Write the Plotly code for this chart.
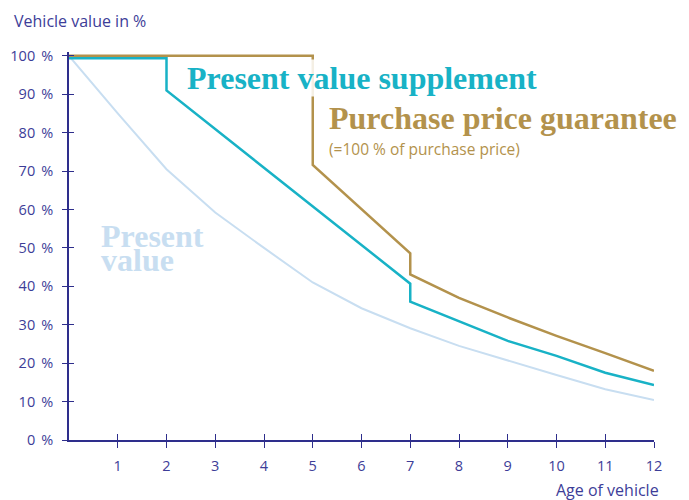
import plotly.graph_objects as go

# ---- data ----
age_ticks = [1, 2, 3, 4, 5, 6, 7, 8, 9, 10, 11, 12]
pct_ticks = [0, 10, 20, 30, 40, 50, 60, 70, 80, 90, 100]
pct_labels = [f"{v}\u2009\u00a0%" for v in pct_ticks]

present_x = [0, 1, 2, 3, 4, 5, 6, 7, 8, 9, 10, 11, 12]
present_y = [100, 85, 70.5, 59.2, 50, 41, 34.3, 29.1, 24.5, 20.6, 16.9, 13.2, 10.4]

supplement_x = [0, 2, 2, 7, 7, 8, 9, 10, 11, 12]
supplement_y = [99.4, 99.4, 91, 40.7, 36, 31, 25.8, 21.9, 17.5, 14.3]

guarantee_x = [0, 5, 5, 7, 7, 8, 9, 10, 11, 12]
guarantee_y = [100, 100, 71.6, 48.6, 43.1, 37, 31.9, 27.1, 22.6, 18]

# ---- style ----
AXIS = "#2e2e8c"
TXT = "#3d3d98"
TEAL = "#18b2c6"
GOLD = "#b3924c"
LIGHT = "#c8def1"
SANS = "'Open Sans', Lato, sans-serif"
SERIF = "'Liberation Serif', serif"

fig = go.Figure()
fig.add_trace(go.Scatter(x=present_x, y=present_y, mode="lines",
                         line=dict(color=LIGHT, width=2), hoverinfo="skip"))
fig.add_trace(go.Scatter(x=supplement_x, y=supplement_y, mode="lines",
                         line=dict(color=TEAL, width=2.5), hoverinfo="skip"))
fig.add_trace(go.Scatter(x=guarantee_x, y=guarantee_y, mode="lines",
                         line=dict(color=GOLD, width=2.5), hoverinfo="skip"))
# empty trace on overlay axes (for inside tick halves)
fig.add_trace(go.Scatter(x=[], y=[], xaxis="x2", yaxis="y2", hoverinfo="skip"))

xr = [0, 12]
yr = [0, 101]

# page body has an 8px margin, so the figure is shrunk by 8px on left/top
fig.update_layout(
    width=681, height=492,
    margin=dict(l=61, r=35, t=44, b=60, autoexpand=False),
    paper_bgcolor="white", plot_bgcolor="white",
    showlegend=False,
    font=dict(family=SANS, color=TXT, size=15),
    xaxis=dict(range=xr, tickmode="array", tickvals=age_ticks, automargin=False,
               ticks="outside", ticklen=6, tickwidth=1.3, tickcolor=AXIS,
               showline=True, linecolor=AXIS, linewidth=1.5,
               showgrid=False, zeroline=False, ticklabelstandoff=6,
               tickfont=dict(family=SANS, size=14.5, color=TXT), fixedrange=True),
    yaxis=dict(range=yr, tickmode="array", tickvals=pct_ticks, ticktext=pct_labels,
               automargin=False,
               ticks="outside", ticklen=5, tickwidth=1.3, tickcolor=AXIS,
               showline=True, linecolor=AXIS, linewidth=1.5,
               showgrid=False, zeroline=False, ticklabelstandoff=6,
               tickfont=dict(family=SANS, size=14.5, color=TXT), fixedrange=True),
    xaxis2=dict(range=xr, overlaying="x", anchor="y2", side="bottom", automargin=False,
                tickmode="array", tickvals=age_ticks, ticks="inside", ticklen=6,
                tickwidth=1.3, tickcolor=AXIS, showticklabels=False,
                showline=False, showgrid=False, zeroline=False, fixedrange=True),
    yaxis2=dict(range=yr, overlaying="y", anchor="x2", side="left", automargin=False,
                tickmode="array", tickvals=pct_ticks, ticks="inside", ticklen=5,
                tickwidth=1.3, tickcolor=AXIS, showticklabels=False,
                showline=False, showgrid=False, zeroline=False, fixedrange=True),
)

ann = [
    dict(text="Vehicle value in %", xref="paper", yref="paper",
         x=-0.0974, y=1.08, xanchor="left", yanchor="middle",
         font=dict(family=SANS, size=16, color=TXT)),
    dict(text="Age of vehicle", xref="paper", yref="paper",
         x=1.012, y=-0.128, xanchor="right", yanchor="middle",
         font=dict(family=SANS, size=16, color=TXT)),
    dict(text="<b>Present value supplement</b>", xref="x", yref="y",
         x=2.405, y=94.2, xanchor="left", yanchor="middle",
         bgcolor="rgba(255,255,255,0.85)", borderpad=0,
         font=dict(family=SERIF, size=32, color=TEAL)),
    dict(text="<b>Purchase price guarantee</b>", xref="x", yref="y",
         x=5.3, y=83.8, xanchor="left", yanchor="middle",
         font=dict(family=SERIF, size=32, color=GOLD)),
    dict(text="(=100 % of purchase price)", xref="x", yref="y",
         x=5.3, y=75.8, xanchor="left", yanchor="middle",
         font=dict(family=SANS, size=15.5, color=GOLD)),
    dict(text="<b>Present</b>", xref="x", yref="y",
         x=0.62, y=53, xanchor="left", yanchor="middle",
         font=dict(family=SERIF, size=32, color=LIGHT)),
    dict(text="<b>value</b>", xref="x", yref="y",
         x=0.62, y=46.8, xanchor="left", yanchor="middle",
         font=dict(family=SERIF, size=32, color=LIGHT)),
]
for a in ann:
    a["showarrow"] = False
fig.update_layout(annotations=ann)

fig.write_html("out.html")
